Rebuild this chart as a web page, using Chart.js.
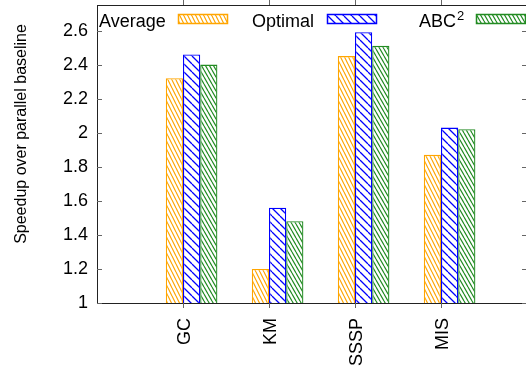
<!DOCTYPE html>
<html>
<head>
  <script src="https://cdn.jsdelivr.net/npm/chart.js"></script>
  <style>
    body { margin: 0; overflow: hidden; background: #fff; }
  </style>
</head>
<body>
  <canvas id="speedupChart" width="530" height="371"></canvas>

  <script>
    // values
    var categories = ['GC', 'KM', 'SSSP', 'MIS'];
    var average = [2.32, 1.20, 2.45, 1.87];
    var optimal = [2.46, 1.56, 2.59, 2.03];
    var abc2 = [2.40, 1.48, 2.51, 2.02];
    var yTicks = [1, 1.2, 1.4, 1.6, 1.8, 2, 2.2, 2.4, 2.6];

    var FONT = '"Liberation Sans", Arial, sans-serif';
    var ctx = document.getElementById('speedupChart').getContext('2d');

    // hatch fill like the gnuplot patterns
    function hatch(color, w, h, lw) {
      var c = document.createElement('canvas');
      c.width = w; c.height = h;
      var g = c.getContext('2d');
      g.fillStyle = '#fff';
      g.fillRect(0, 0, w, h);
      g.strokeStyle = color;
      g.lineWidth = lw;
      g.beginPath();
      for (var k = -1; k <= 1; k++) {
        g.moveTo(k * w, 0);
        g.lineTo(k * w + w, h);
      }
      g.stroke();
      return ctx.createPattern(c, 'repeat');
    }

    var orange = '#ffa500', blue = '#0000ff', green = '#228b22';
    var fills = [hatch(orange, 4, 8, 1.2), hatch(blue, 8, 8, 1.3), hatch(green, 4, 7, 1.2)];

    // empty slot at each end of the axis, like the original xrange
    var labels = [''].concat(categories, ['']);
    function pad(arr) { return [null].concat(arr, [null]); }

    // frame, gnuplot style ticks, key and y label
    var decorations = {
      id: 'decorations',
      afterDraw: function (chart) {
        var c = chart.ctx, a = chart.chartArea;
        var xs = chart.scales.x, ys = chart.scales.y;
        c.save();
        c.strokeStyle = '#222';
        c.lineWidth = 1;
        c.strokeRect(Math.round(a.left) + 0.5, Math.round(a.top) + 0.5,
          Math.round(a.right - a.left), Math.round(a.bottom - a.top));

        c.strokeStyle = '#666';
        c.beginPath();
        yTicks.forEach(function (v) {
          var y = Math.round(ys.getPixelForValue(v)) + 0.5;
          c.moveTo(a.left, y); c.lineTo(a.left + 5, y);
          c.moveTo(a.right - 5, y); c.lineTo(a.right, y);
        });
        categories.forEach(function (cat, i) {
          var x = Math.round(xs.getPixelForValue(i + 1)) + 0.5;
          c.moveTo(x, a.bottom); c.lineTo(x, a.bottom + 5);
          c.moveTo(x, a.top); c.lineTo(x, a.top - 5);
        });
        c.stroke();

        // key
        var names = ['Average', 'Optimal', 'ABC'];
        var textX = [99, 252, 419];
        var boxX = [178, 327, 476];
        var colors = [orange, blue, green];
        c.textBaseline = 'alphabetic';
        c.textAlign = 'left';
        for (var i = 0; i < 3; i++) {
          c.fillStyle = '#000';
          c.font = '18px ' + FONT;
          c.fillText(names[i], textX[i], 27);
          c.fillStyle = fills[i];
          c.fillRect(boxX[i], 14, 50, 10);
          c.strokeStyle = colors[i];
          c.lineWidth = 1.5;
          c.strokeRect(boxX[i] + 0.5, 14.5, 49, 9);
        }
        c.font = '18px ' + FONT;
        var abcW = c.measureText('ABC').width;
        c.fillStyle = '#000';
        c.font = '13px ' + FONT;
        c.fillText('2', 419 + abcW + 1, 20);

        // y axis title
        c.translate(22, 134);
        c.rotate(-Math.PI / 2);
        c.font = '16px ' + FONT;
        c.textAlign = 'center';
        c.textBaseline = 'middle';
        c.fillText('Speedup over parallel baseline', 0, 0);
        c.restore();
      }
    };

    var myChart = new Chart(ctx, {
      type: 'bar',
      data: {
        labels: labels,
        datasets: [
          { label: '', data: pad([null, null, null, null]) },
          { label: 'Average', data: pad(average), backgroundColor: fills[0], borderColor: orange },
          { label: 'Optimal', data: pad(optimal), backgroundColor: fills[1], borderColor: blue },
          { label: 'ABC2', data: pad(abc2), backgroundColor: fills[2], borderColor: green }
        ]
      },
      options: {
        responsive: false,
        animation: false,
        categoryPercentage: 0.8,
        barPercentage: 1.0,
        borderWidth: 1.3,
        layout: { padding: { left: 0, right: 3, top: 5, bottom: 0 } },
        plugins: {
          legend: { display: false },
          tooltip: { enabled: false }
        },
        scales: {
          x: {
            offset: false,
            grid: { display: false, drawTicks: false },
            border: { display: false },
            ticks: {
              autoSkip: false,
              minRotation: 90,
              maxRotation: 90,
              padding: 15,
              labelOffset: 2,
              color: '#000',
              font: { family: FONT, size: 18 }
            },
            afterFit: function (scale) {
              scale.height = 68;
              scale.paddingLeft = 0;
              scale.paddingRight = 0;
            }
          },
          y: {
            min: 1,
            max: 2.75,
            grid: { display: false, drawTicks: false },
            border: { display: false },
            ticks: {
              stepSize: 0.2,
              padding: 9,
              color: '#000',
              font: { family: FONT, size: 18 },
              callback: function (v) { return +v.toFixed(1); }
            },
            afterBuildTicks: function (scale) {
              scale.ticks = yTicks.map(function (v) { return { value: v }; });
            },
            afterFit: function (scale) {
              scale.width = 97;
              scale.paddingTop = 0;
              scale.paddingBottom = 0;
            }
          }
        }
      },
      plugins: [decorations]
    });
  </script>
</body>
</html>
